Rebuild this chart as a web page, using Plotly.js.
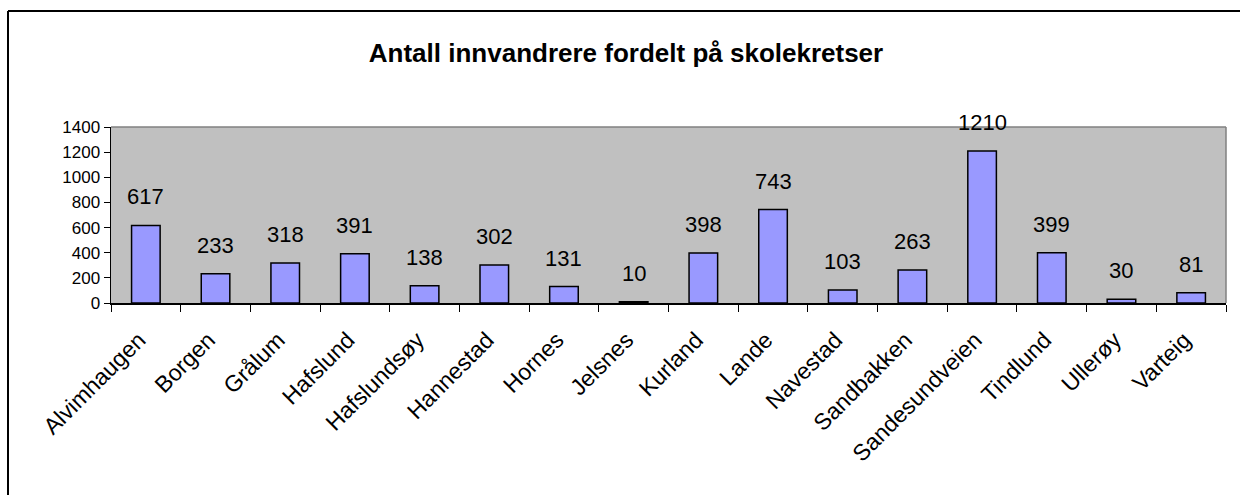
<!DOCTYPE html>
<html>
<head>
<meta charset="utf-8">
<script src="https://cdn.plot.ly/plotly-3.0.1.min.js"></script>
<style>
html,body{margin:0;padding:0;background:#fff;}
#chart{width:1240px;height:495px;}
</style>
</head>
<body>
<div id="chart"></div>
<script>
const categories = ["Alvimhaugen","Borgen","Grålum","Hafslund","Hafslundsøy","Hannestad","Hornes","Jelsnes","Kurland","Lande","Navestad","Sandbakken","Sandesundveien","Tindlund","Ullerøy","Varteig"];
const values = [617,233,318,391,138,302,131,10,398,743,103,263,1210,399,30,81];
const yTicks = [0,200,400,600,800,1000,1200,1400];
const titleText = "Antall innvandrere fordelt på skolekretser";

const W = 1240, H = 495;
const mL = 111, mR = 14, mT = 127, mB = 192;
const pw = W - mL - mR, ph = H - mT - mB;
function px2paperX(px){ return (px - mL) / pw; }
function px2paperY(py){ return (H - mB - py) / ph; }

const trace = {
  type: 'bar',
  x: categories,
  y: values,
  marker: {color: '#9999FF', line: {color: '#000000', width: 1.5}},
  hoverinfo: 'x+y',
  showlegend: false
};

const annotations = categories.map((c, i) => ({
  x: c, y: values[i], xref: 'x', yref: 'y',
  text: String(values[i]),
  showarrow: false, yanchor: 'bottom', xanchor: 'center',
  yshift: 14,
  font: {family: 'Liberation Sans, Arial, sans-serif', size: 22, color: '#000'}
}));

const layout = {
  width: W, height: H,
  margin: {l: mL, r: mR, t: mT, b: mB, pad: 0},
  paper_bgcolor: '#ffffff',
  plot_bgcolor: '#C0C0C0',
  bargap: 0.59,
  title: {
    text: '<b>' + titleText + '</b>',
    font: {family: 'Liberation Sans, Arial, sans-serif', size: 26, color: '#000'},
    x: px2paperX(626), xanchor: 'center', xref: 'paper',
    y: 1 - 53/H, yanchor: 'middle', yref: 'container'
  },
  font: {family: 'Liberation Sans, Arial, sans-serif', color: '#000'},
  xaxis: {
    type: 'category',
    tickangle: -45,
    tickson: 'boundaries',
    ticks: 'outside', ticklen: 7, tickcolor: '#000', tickwidth: 1,
    ticklabelstandoff: 13,
    ticklabelshift: -7,
    showline: true, linecolor: '#000', linewidth: 1.5,
    showgrid: false, zeroline: false,
    tickfont: {family: 'Liberation Sans, Arial, sans-serif', size: 23, color: '#000'},
    fixedrange: true
  },
  yaxis: {
    range: [0, 1400],
    tickvals: yTicks,
    ticktext: yTicks.map(String),
    ticks: 'outside', ticklen: 6, tickcolor: '#000', tickwidth: 1,
    showline: true, linecolor: '#000', linewidth: 1.5,
    showgrid: false, zeroline: false,
    tickfont: {family: 'Liberation Sans, Arial, sans-serif', size: 17, color: '#000'},
    fixedrange: true
  },
  annotations: annotations,
  shapes: [
    {type: 'line', xref: 'paper', yref: 'paper', x0: 0, x1: 1, y0: 1, y1: 1, line: {color: '#808080', width: 1.5}},
    {type: 'line', xref: 'paper', yref: 'paper', x0: 1, x1: 1, y0: 0, y1: 1, line: {color: '#808080', width: 1.5}},
    {type: 'line', xref: 'paper', yref: 'paper', x0: px2paperX(8), x1: px2paperX(1260), y0: px2paperY(11), y1: px2paperY(11), line: {color: '#000', width: 2}},
    {type: 'line', xref: 'paper', yref: 'paper', x0: px2paperX(8), x1: px2paperX(8), y0: px2paperY(11), y1: px2paperY(520), line: {color: '#000', width: 2}}
  ]
};

Plotly.newPlot('chart', [trace], layout, {displayModeBar: false, staticPlot: true});
</script>
</body>
</html>
